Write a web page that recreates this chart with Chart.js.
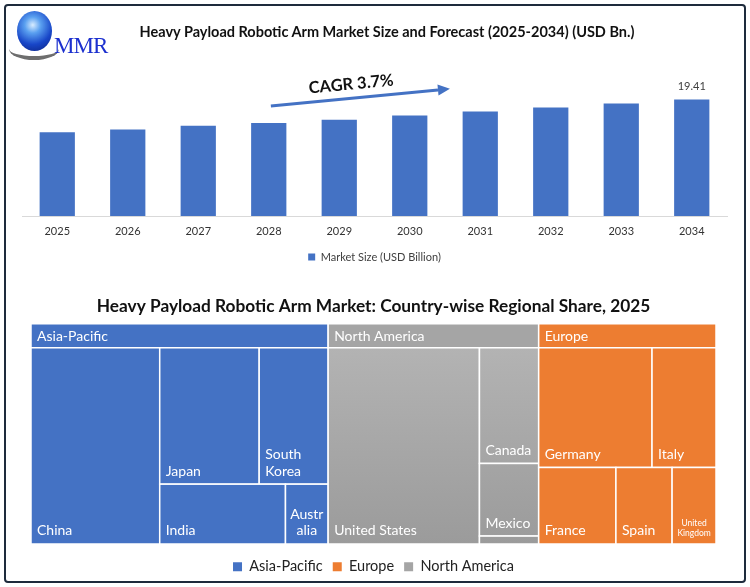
<!DOCTYPE html>
<html>
<head>
<meta charset="utf-8">
<script src="https://cdn.jsdelivr.net/npm/chart.js@4.4.1/dist/chart.umd.min.js"></script>
<style>
  body { margin: 0; background: #fff; font-family: Lato, sans-serif; }
  #wrap { position: relative; width: 750px; height: 587px; overflow: hidden; background: #fff; }
  #frame { position: absolute; left: 4px; top: 4px; width: 738px; height: 575px; border: 2px solid #1e2b3c; border-radius: 4px; }
  #topChart { position: absolute; left: 0; top: 0; }
  #shareChart { position: absolute; left: 0; top: 280px; }
  #title1 { position: absolute; left: 0; top: 23px; width: 774px; text-align: center; font: bold 14.5px Lato, sans-serif; color: #111; }
  #globe { position: absolute; left: 17px; top: 11px; width: 35px; height: 40px; border-radius: 50%;
           background: radial-gradient(circle at 45% 35%, #d8ecff 0%, #5aa0f0 25%, #1846c8 60%, #0a1f7a 100%); }
  #swoosh { position: absolute; left: 9px; top: 38px; width: 50px; height: 18px; border-bottom: 4px solid #6e6e6e; border-radius: 50%; }
  #mmr { position: absolute; left: 54px; top: 33px; font: 23px "Liberation Serif", serif; color: #1c30cf; letter-spacing: -1px; }
</style>
</head>
<body>
<div id="wrap">
  <div id="frame"></div>
  <canvas id="topChart" width="750" height="280"></canvas>
  <canvas id="shareChart" width="750" height="307"></canvas>
  <div id="swoosh"></div>
  <div id="globe"></div>
  <div id="mmr">MMR</div>
  <div id="title1">Heavy Payload Robotic Arm Market Size and Forecast (2025-2034) (USD Bn.)</div>
</div>
<script>
// market size chart data
const years = ['2025', '2026', '2027', '2028', '2029', '2030', '2031', '2032', '2033', '2034'];
const marketSize = [13.94, 14.4, 15.05, 15.5, 16.06, 16.73, 17.4, 18.1, 18.74, 19.41];
const cagr = 3.7;

// regional share data (2025, %)
const regions = ['Asia-Pacific', 'Europe', 'North America'];
const apacCountries = ['China', 'Japan', 'South Korea', 'India', 'Australia'];
const apacShare = [18.8, 10.1, 7.0, 5.6, 1.9];
const europeCountries = ['Germany', 'Italy', 'France', 'Spain', 'United Kingdom'];
const europeShare = [10.1, 5.7, 4.4, 3.2, 2.5];
const naCountries = ['United States', 'Canada', 'Mexico', 'Rest of North America'];
const naShare = [22.1, 5.1, 3.2, 0.35];

const blue = '#4472C4';
const orange = '#ED7D31';
const gray = '#A5A5A5';

// label above the last bar
const valueLabel = {
  id: 'valueLabel',
  afterDatasetsDraw(chart) {
    const ctx = chart.ctx;
    const meta = chart.getDatasetMeta(0);
    const last = meta.data[meta.data.length - 1];
    ctx.save();
    ctx.font = '11px Lato';
    ctx.fillStyle = '#404040';
    ctx.textAlign = 'center';
    ctx.textBaseline = 'middle';
    ctx.fillText(marketSize[marketSize.length - 1].toFixed(2), last.x, last.y - 13);
    ctx.restore();
  }
};

// CAGR arrow
const cagrArrow = {
  id: 'cagrArrow',
  afterDatasetsDraw(chart) {
    const ctx = chart.ctx;
    const xs = chart.scales.x, ys = chart.scales.y;
    const x1 = xs.getPixelForValue(3.03), y1 = ys.getPixelForValue(18.35);
    const x2 = xs.getPixelForValue(5.57), y2 = ys.getPixelForValue(21.2);
    const ang = Math.atan2(y2 - y1, x2 - x1);
    const head = 12;
    ctx.save();
    ctx.strokeStyle = blue;
    ctx.fillStyle = blue;
    ctx.lineWidth = 3;
    ctx.beginPath();
    ctx.moveTo(x1, y1);
    ctx.lineTo(x2 - head * Math.cos(ang), y2 - head * Math.sin(ang));
    ctx.stroke();
    ctx.translate(x2, y2);
    ctx.rotate(ang);
    ctx.beginPath();
    ctx.moveTo(0, 0);
    ctx.lineTo(-head, -5.5);
    ctx.lineTo(-head, 5.5);
    ctx.closePath();
    ctx.fill();
    ctx.restore();

    ctx.save();
    ctx.translate((x1 + x2) / 2, (y1 + y2) / 2);
    ctx.rotate(ang);
    ctx.font = 'bold 16.5px Lato';
    ctx.fillStyle = '#111';
    ctx.textAlign = 'center';
    ctx.textBaseline = 'middle';
    ctx.fillText('CAGR ' + cagr + '%', -8, -14);
    ctx.restore();
  }
};

new Chart(document.getElementById('topChart'), {
  type: 'bar',
  data: {
    labels: years,
    datasets: [{
      label: 'Market Size (USD Billion)',
      data: marketSize,
      backgroundColor: blue,
      barPercentage: 0.5,
      categoryPercentage: 1
    }]
  },
  options: {
    responsive: false,
    animation: false,
    layout: { padding: { left: 22, right: 23, top: 66, bottom: 7.5 } },
    scales: {
      x: {
        grid: { display: false, drawTicks: false },
        border: { display: true, color: '#d9d9d9', width: 1 },
        ticks: { color: '#333', font: { family: 'Lato', size: 11 }, padding: 8.4 }
      },
      y: { display: false, min: 0, max: 25 }
    },
    plugins: {
      legend: {
        position: 'bottom',
        labels: { boxWidth: 7, boxHeight: 7, padding: 5.5, color: '#404040', font: { family: 'Lato', size: 11 } }
      },
      tooltip: { enabled: false }
    }
  },
  plugins: [valueLabel, cagrArrow]
});

// squarified treemap layout, values sorted descending
function worst(row, side) {
  const s = row.reduce((a, b) => a + b, 0);
  const mx = Math.max(...row), mn = Math.min(...row);
  return Math.max(side * side * mx / (s * s), (s * s) / (side * side * mn));
}
function squarify(values, rect) {
  const total = values.reduce((a, b) => a + b, 0);
  const areas = values.map(v => v / total * rect.w * rect.h);
  const out = [];
  let { x, y, w, h } = rect;
  let i = 0;
  while (i < areas.length) {
    const side = Math.min(w, h);
    const row = [areas[i]];
    let j = i + 1;
    while (j < areas.length && worst(row.concat(areas[j]), side) <= worst(row, side)) {
      row.push(areas[j]);
      j++;
    }
    const s = row.reduce((a, b) => a + b, 0);
    if (w >= h) {
      const cw = s / h;
      let yy = y;
      row.forEach(a => { out.push({ x: x, y: yy, w: cw, h: a / cw }); yy += a / cw; });
      x += cw; w -= cw;
    } else {
      const rh = s / w;
      let xx = x;
      row.forEach(a => { out.push({ x: xx, y: y, w: a / rh, h: rh }); xx += a / rh; });
      y += rh; h -= rh;
    }
    i = j;
  }
  return out;
}

function wrapWords(ctx, text, avail) {
  const words = text.split(' ');
  const lines = [];
  let cur = '';
  words.forEach(wd => {
    const t = cur ? cur + ' ' + wd : wd;
    if (cur && ctx.measureText(t).width > avail) { lines.push(cur); cur = wd; }
    else cur = t;
  });
  lines.push(cur);
  return lines;
}
function wrapChars(ctx, text, avail) {
  const lines = [];
  let cur = '';
  for (const ch of text) {
    if (cur && ctx.measureText(cur + ch).width > avail) { lines.push(cur); cur = ch; }
    else cur += ch;
  }
  lines.push(cur);
  return lines;
}

function cellLabel(ctx, text, r) {
  let fs = 14;
  const avail = r.w - 10;
  ctx.font = fs + 'px Lato';
  let lines = wrapWords(ctx, text, avail);
  let centered = false;
  const widest = ls => Math.max(...ls.map(l => ctx.measureText(l).width));
  if (widest(lines) > avail) {
    centered = true;
    if (text.indexOf(' ') < 0) {
      lines = wrapChars(ctx, text, r.w - 6);
    } else {
      lines = text.split(' ');
      while (fs > 6 && widest(lines) > avail) {
        fs -= 0.5;
        ctx.font = fs + 'px Lato';
      }
    }
  }
  const lh = fs * 1.2;
  if (lines.length * lh + 6 > r.h) return;
  ctx.fillStyle = '#fff';
  ctx.textBaseline = 'alphabetic';
  ctx.textAlign = centered ? 'center' : 'left';
  const bx = centered ? r.x + r.w / 2 : r.x + 6;
  const by = r.y + r.h - (fs > 10 ? 8.5 : 8);
  lines.forEach((l, k) => ctx.fillText(l, bx, by - (lines.length - 1 - k) * lh));
}

const treemap = {
  id: 'treemap',
  afterDatasetsDraw(chart) {
    const ctx = chart.ctx;
    const xs = chart.scales.x, ys = chart.scales.y;
    const box = {
      x: xs.getPixelForValue(0), y: ys.getPixelForValue(100),
      w: xs.getPixelForValue(100) - xs.getPixelForValue(0),
      h: ys.getPixelForValue(0) - ys.getPixelForValue(100)
    };
    const groups = chart.data.datasets.map(ds => ({ ds, total: ds.shares.reduce((a, b) => a + b, 0) }))
      .sort((a, b) => b.total - a.total);
    const groupRects = squarify(groups.map(g => g.total), box);
    const headerH = 24;
    ctx.save();
    groups.forEach((g, gi) => {
      const gr = groupRects[gi];
      const ds = g.ds;
      const body = { x: gr.x, y: gr.y + headerH, w: gr.w, h: gr.h - headerH };
      let bodyFill = ds.backgroundColor;
      if (ds.gradient) {
        const grad = ctx.createLinearGradient(0, body.y, 0, body.y + body.h);
        grad.addColorStop(0, ds.gradient[0]);
        grad.addColorStop(1, ds.gradient[1]);
        bodyFill = grad;
      }
      // header band
      ctx.fillStyle = ds.backgroundColor;
      ctx.fillRect(gr.x, gr.y, gr.w, headerH);
      ctx.strokeStyle = '#fff';
      ctx.lineWidth = 1.5;
      ctx.strokeRect(gr.x, gr.y, gr.w, headerH);
      ctx.fillStyle = '#fff';
      ctx.font = '14px Lato';
      ctx.textAlign = 'left';
      ctx.textBaseline = 'middle';
      ctx.fillText(ds.label, gr.x + 6, gr.y + headerH / 2 + 0.5);

      const idx = ds.shares.map((v, k) => k).sort((a, b) => ds.shares[b] - ds.shares[a]);
      const cells = squarify(idx.map(k => ds.shares[k]), body);
      cells.forEach((c, ci) => {
        ctx.fillStyle = bodyFill;
        ctx.fillRect(c.x, c.y, c.w, c.h);
        ctx.strokeStyle = '#fff';
        ctx.lineWidth = 1.5;
        ctx.strokeRect(c.x, c.y, c.w, c.h);
        cellLabel(ctx, ds.countries[idx[ci]], c);
      });
    });
    ctx.restore();
  }
};

new Chart(document.getElementById('shareChart'), {
  type: 'scatter',
  data: {
    datasets: [
      { label: regions[0], data: [], backgroundColor: blue, borderWidth: 0, countries: apacCountries, shares: apacShare },
      { label: regions[1], data: [], backgroundColor: orange, borderWidth: 0, countries: europeCountries, shares: europeShare },
      { label: regions[2], data: [], backgroundColor: gray, borderWidth: 0, countries: naCountries, shares: naShare,
        gradient: ['#b3b3b3', '#9b9b9b'] }
    ]
  },
  options: {
    responsive: false,
    animation: false,
    layout: { padding: { left: 31, right: 34, top: 0, bottom: 3 } },
    scales: {
      x: { display: false, min: 0, max: 100 },
      y: { display: false, min: -2.5, max: 100 }
    },
    plugins: {
      title: {
        display: true,
        text: 'Heavy Payload Robotic Arm Market: Country-wise Regional Share, 2025',
        color: '#111',
        font: { family: 'Lato', size: 17.3, weight: 'bold' },
        padding: { top: 16, bottom: 7 }
      },
      legend: {
        position: 'bottom',
        labels: { boxWidth: 9, boxHeight: 9, padding: 10, color: '#222', font: { family: 'Lato', size: 14.5 } }
      },
      tooltip: { enabled: false }
    }
  },
  plugins: [treemap]
});
</script>
</body>
</html>
